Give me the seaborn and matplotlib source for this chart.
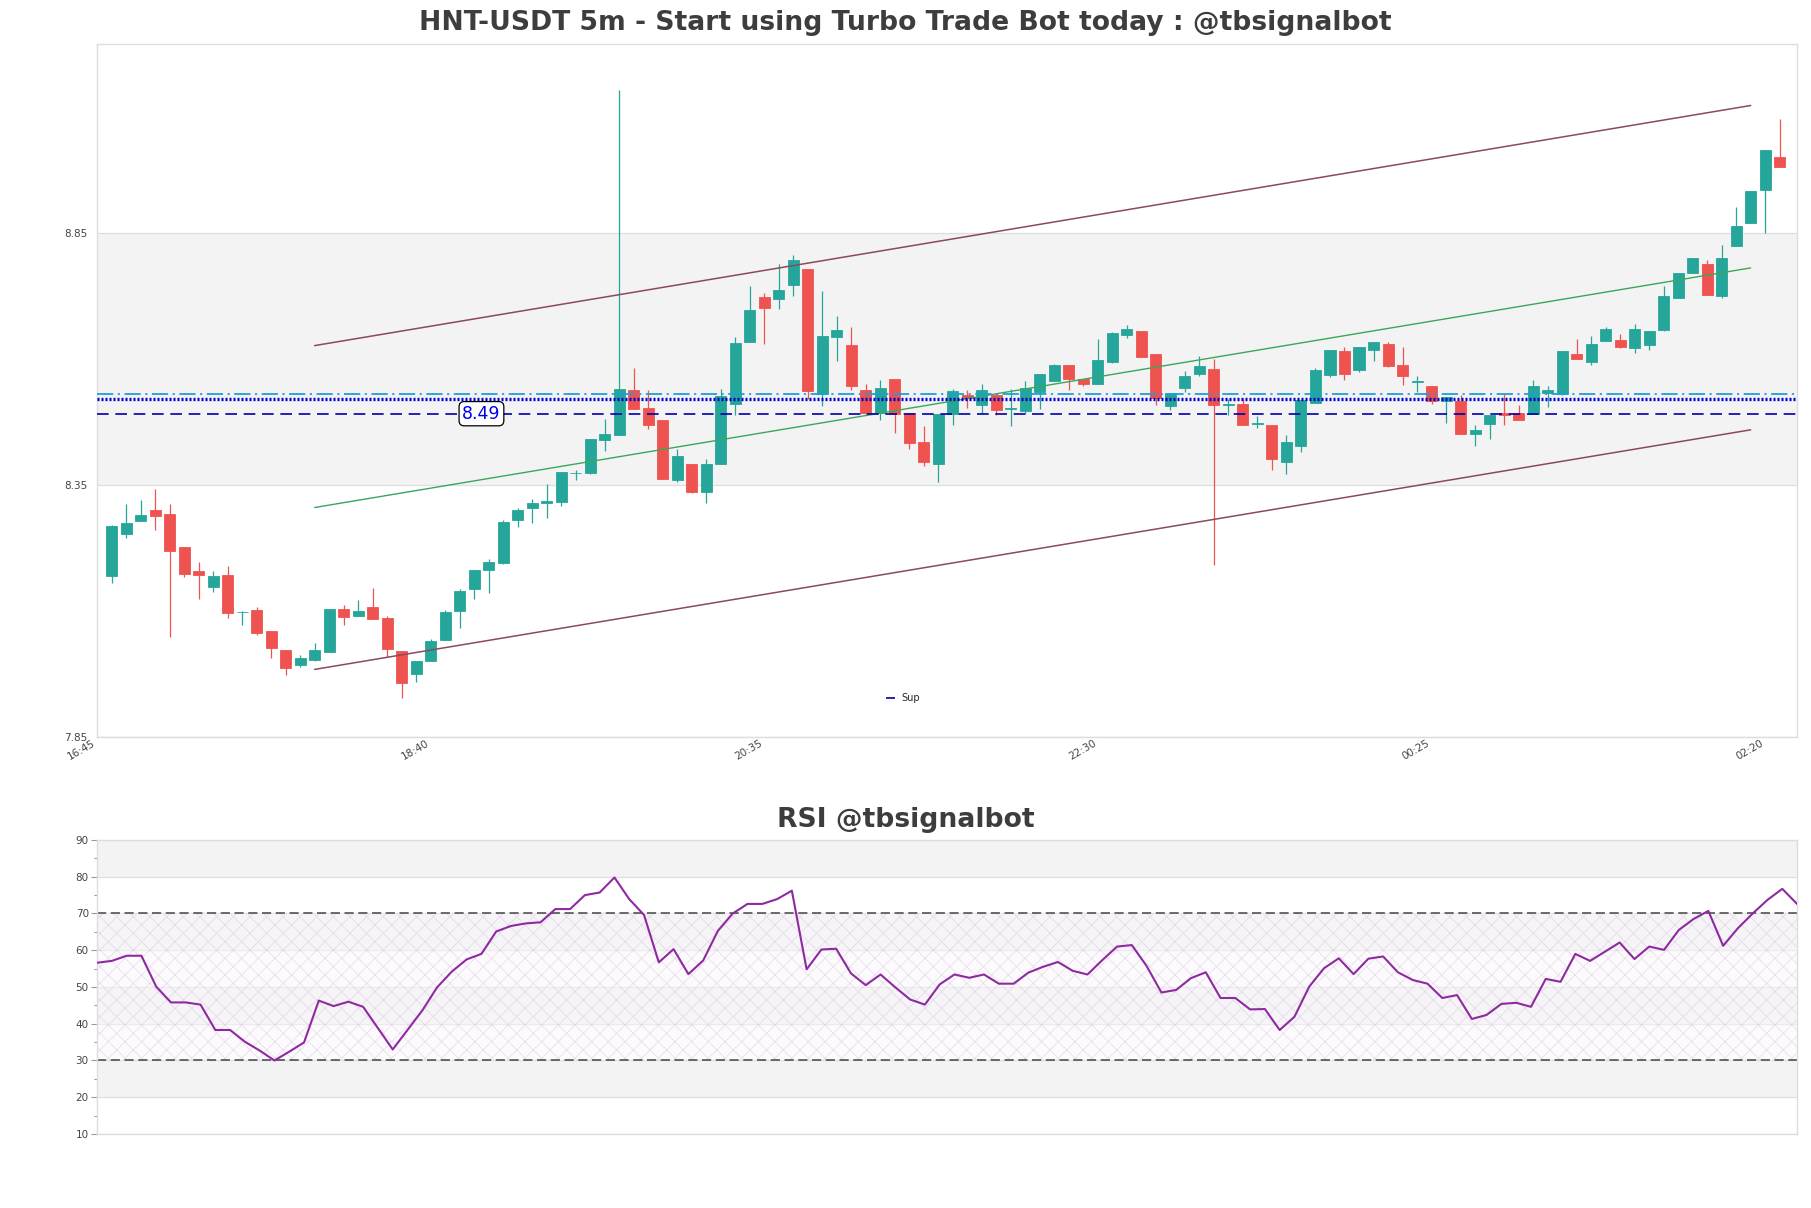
import numpy as np
import pandas as pd
import matplotlib
matplotlib.use("Agg")
import matplotlib.pyplot as plt
import seaborn as sns
from matplotlib.ticker import MultipleLocator

sns.set_theme(style="white")
plt.rcParams['font.family'] = ['DejaVu Sans']
plt.rcParams['hatch.linewidth'] = 0.5

# ---------------- data ----------------
opens = [8.170, 8.253, 8.278, 8.300, 8.292, 8.226, 8.179, 8.148, 8.171, 8.097,
         8.101, 8.060, 8.022, 7.993, 8.003, 8.019, 8.104, 8.090, 8.107, 8.086,
         8.020, 7.974, 8.001, 8.043, 8.100, 8.144, 8.181, 8.195, 8.280, 8.304,
         8.313, 8.316, 8.373, 8.373, 8.439, 8.449, 8.538, 8.503, 8.478, 8.359,
         8.392, 8.336, 8.392, 8.511, 8.633, 8.723, 8.718, 8.746, 8.777, 8.531,
         8.643, 8.628, 8.537, 8.493, 8.559, 8.493, 8.435, 8.392, 8.491, 8.529,
         8.509, 8.529, 8.501, 8.496, 8.534, 8.556, 8.587, 8.560, 8.550, 8.593,
         8.647, 8.655, 8.610, 8.506, 8.542, 8.569, 8.580, 8.509, 8.511, 8.470,
         8.469, 8.395, 8.427, 8.512, 8.568, 8.616, 8.577, 8.618, 8.630, 8.587,
         8.553, 8.545, 8.516, 8.517, 8.451, 8.471, 8.493, 8.493, 8.491, 8.532,
         8.530, 8.610, 8.593, 8.635, 8.637, 8.621, 8.628, 8.656, 8.720, 8.769,
         8.787, 8.724, 8.823, 8.870, 8.934, 9.000]
highs = [8.270, 8.312, 8.319, 8.341, 8.311, 8.227, 8.197, 8.179, 8.190, 8.100,
         8.107, 8.060, 8.022, 8.012, 8.036, 8.104, 8.111, 8.121, 8.146, 8.090,
         8.020, 8.001, 8.044, 8.101, 8.143, 8.181, 8.202, 8.280, 8.304, 8.321,
         8.352, 8.375, 8.380, 8.440, 8.480, 9.132, 8.581, 8.538, 8.478, 8.420,
         8.392, 8.402, 8.540, 8.643, 8.745, 8.731, 8.787, 8.806, 8.777, 8.735,
         8.684, 8.663, 8.550, 8.557, 8.559, 8.493, 8.466, 8.491, 8.540, 8.537,
         8.550, 8.532, 8.540, 8.556, 8.569, 8.589, 8.587, 8.560, 8.639, 8.653,
         8.666, 8.655, 8.610, 8.532, 8.575, 8.605, 8.600, 8.521, 8.521, 8.486,
         8.469, 8.449, 8.519, 8.582, 8.618, 8.623, 8.624, 8.633, 8.633, 8.623,
         8.565, 8.545, 8.525, 8.529, 8.469, 8.488, 8.532, 8.509, 8.557, 8.545,
         8.616, 8.639, 8.645, 8.663, 8.649, 8.669, 8.654, 8.745, 8.770, 8.800,
         8.796, 8.826, 8.900, 8.933, 9.014, 9.075]
lows = [8.156, 8.245, 8.278, 8.260, 8.049, 8.167, 8.124, 8.138, 8.086, 8.072,
        8.053, 8.007, 7.973, 7.989, 8.001, 8.019, 8.072, 8.090, 8.084, 8.009,
        7.927, 7.960, 8.001, 8.043, 8.066, 8.124, 8.136, 8.192, 8.266, 8.274,
        8.285, 8.308, 8.359, 8.371, 8.418, 8.449, 8.501, 8.461, 8.362, 8.356,
        8.333, 8.313, 8.392, 8.489, 8.633, 8.630, 8.698, 8.724, 8.521, 8.506,
        8.595, 8.538, 8.489, 8.478, 8.453, 8.420, 8.387, 8.356, 8.468, 8.503,
        8.491, 8.488, 8.466, 8.491, 8.501, 8.556, 8.538, 8.545, 8.550, 8.591,
        8.641, 8.603, 8.509, 8.499, 8.534, 8.565, 8.191, 8.488, 8.468, 8.463,
        8.379, 8.371, 8.415, 8.512, 8.564, 8.557, 8.573, 8.595, 8.583, 8.547,
        8.534, 8.511, 8.472, 8.451, 8.427, 8.441, 8.469, 8.479, 8.491, 8.504,
        8.529, 8.600, 8.587, 8.635, 8.621, 8.611, 8.618, 8.655, 8.720, 8.769,
        8.727, 8.721, 8.823, 8.870, 8.849, 8.981]
closes = [8.268, 8.274, 8.290, 8.288, 8.219, 8.173, 8.171, 8.169, 8.096, 8.098,
          8.056, 8.027, 7.987, 8.006, 8.022, 8.104, 8.088, 8.100, 8.084, 8.025,
          7.958, 8.001, 8.040, 8.097, 8.139, 8.181, 8.196, 8.276, 8.300, 8.313,
          8.317, 8.375, 8.374, 8.440, 8.450, 8.540, 8.501, 8.469, 8.362, 8.408,
          8.336, 8.392, 8.527, 8.631, 8.697, 8.700, 8.736, 8.795, 8.536, 8.646,
          8.656, 8.546, 8.493, 8.542, 8.491, 8.432, 8.395, 8.491, 8.535, 8.522,
          8.537, 8.499, 8.503, 8.542, 8.569, 8.587, 8.559, 8.550, 8.597, 8.650,
          8.659, 8.603, 8.523, 8.532, 8.566, 8.586, 8.509, 8.510, 8.468, 8.472,
          8.401, 8.435, 8.519, 8.577, 8.618, 8.570, 8.624, 8.633, 8.585, 8.566,
          8.555, 8.516, 8.525, 8.451, 8.459, 8.488, 8.489, 8.479, 8.545, 8.537,
          8.616, 8.600, 8.630, 8.659, 8.623, 8.659, 8.654, 8.725, 8.770, 8.800,
          8.727, 8.800, 8.864, 8.933, 9.014, 8.981]
rsi = [56.6, 57.1, 58.5, 58.5, 50.1, 45.8, 45.8, 45.2, 38.3, 38.3,
       35.1, 32.7, 30.0, 32.4, 34.9, 46.3, 44.8, 46.0, 44.6, 38.8,
       33.0, 38.3, 43.6, 49.9, 54.2, 57.5, 59.0, 65.1, 66.6, 67.3,
       67.6, 71.2, 71.2, 75.0, 75.7, 79.8, 73.9, 69.6, 56.7, 60.3,
       53.5, 57.2, 65.3, 70.0, 72.6, 72.6, 73.9, 76.2, 54.8, 60.2,
       60.4, 53.7, 50.5, 53.4, 49.9, 46.6, 45.2, 50.7, 53.4, 52.5,
       53.4, 50.9, 50.9, 53.9, 55.5, 56.8, 54.4, 53.4, 57.3, 61.0,
       61.4, 55.7, 48.5, 49.2, 52.4, 54.0, 47.0, 47.0, 43.9, 44.0,
       38.3, 41.9, 50.1, 55.1, 57.8, 53.5, 57.7, 58.3, 54.0, 51.9,
       50.9, 47.0, 47.8, 41.3, 42.4, 45.4, 45.7, 44.6, 52.2, 51.4,
       59.0, 57.1, 59.6, 62.1, 57.6, 61.0, 60.1, 65.5, 68.5, 70.7,
       61.2, 66.0, 70.0, 73.7, 76.7, 72.6]

tick_labels = ['16:45', '18:40', '20:35', '22:30', '00:25', '02:20']
tick_index = [-1, 22, 45, 68, 91, 114]

channel_x = [14, 113]
channel_upper = [8.626, 9.102]
channel_mid = [8.305, 8.780]
channel_lower = [7.984, 8.459]

sup_level = 8.491
level_dashdot = 8.530
level_dotted = 8.521

price_ticks = [7.85, 8.35, 8.85]
rsi_ticks = [10, 20, 30, 40, 50, 60, 70, 80, 90]

df = pd.DataFrame({"open": opens, "high": highs, "low": lows, "close": closes})
df["idx"] = np.arange(len(df))
df["up"] = df["close"] >= df["open"]
rsi_df = pd.DataFrame({"idx": np.arange(len(rsi)), "rsi": rsi})

GREEN = "#26a69a"
RED = "#ef5350"
BAND = "#f3f3f3"
GRID = "#dedede"

fig = plt.figure(figsize=(18.11, 12.08), dpi=100)
ax = fig.add_axes([0.0536, 0.3899, 0.9387, 0.5737])
ax2 = fig.add_axes([0.0536, 0.06126, 0.9387, 0.2434])

# ---------------- main price chart ----------------
ax.set_ylim(7.85, 9.224)
ax.set_xlim(-1, 116.2)
ax.axhspan(price_ticks[1], price_ticks[2], color=BAND, zorder=0, lw=0)
for t in price_ticks:
    ax.axhline(t, color=GRID, lw=0.9, zorder=0.5)

cols = np.where(df["up"], GREEN, RED)
ax.vlines(df["idx"], df["low"], df["high"], colors=cols, lw=0.9, zorder=2)
ax.bar(df["idx"], (df["close"] - df["open"]).abs(),
       bottom=df[["open", "close"]].min(axis=1), width=0.76,
       color=cols, edgecolor=cols, linewidth=0.6, zorder=3)

ax.plot(channel_x, channel_upper, color="#8a4a5c", lw=1.1, zorder=4)
ax.plot(channel_x, channel_lower, color="#8a4a5c", lw=1.1, zorder=4)
ax.plot(channel_x, channel_mid, color="#3aa85a", lw=1.0, zorder=4)

ax.axhline(level_dashdot, color="#1e9fd8", lw=1.3, ls=(0, (9, 2.5, 1.2, 2.5)), zorder=5)
ax.axhline(level_dotted, color="#0000cc", lw=2.4, ls=(0, (0.6, 0.6)), zorder=5)
ax.axhline(sup_level, color="#0000aa", lw=1.2, ls=(0, (7, 4)), zorder=5, label="Sup")
ax.text(25.5, sup_level, "8.49", color="#0000ee", fontsize=12.5, ha="center", va="center",
        zorder=6, bbox=dict(boxstyle="round,pad=0.18,rounding_size=0.3", fc="white", ec="black", lw=0.9))

leg = ax.legend(loc="lower center", bbox_to_anchor=(0.474, 0.036), frameon=False,
                fontsize=7, handlelength=1.0, handletextpad=0.6)

ax.set_yticks(price_ticks)
ax.set_yticklabels([f"{t:.2f}" for t in price_ticks])
ax.set_xticks(tick_index)
ax.set_xticklabels(tick_labels, rotation=30, ha="right")
ax.tick_params(axis="y", length=0, pad=7, labelsize=7.5, labelcolor="#444444")
ax.tick_params(axis="x", length=0, pad=1, labelsize=7.5, labelcolor="#444444")
for s in ax.spines.values():
    s.set_color("#dddddd")
    s.set_linewidth(1.0)

# ---------------- RSI chart ----------------
ax2.set_ylim(10, 90)
ax2.set_xlim(0, len(rsi) - 1)
for lo in [20, 40, 60, 80]:
    ax2.axhspan(lo, lo + 10, color=BAND, zorder=0, lw=0)
for t in rsi_ticks:
    ax2.axhline(t, color=GRID, lw=0.9, zorder=0.5)
ax2.fill_between([0, len(rsi) - 1], 30, 70, facecolor="#faf6fb", edgecolor="#cdbcd9",
                 hatch="xx", linewidth=0, alpha=0.5, zorder=1)
ax2.axhline(70, color="#444444", lw=1.1, ls=(0, (6, 3)), zorder=2)
ax2.axhline(30, color="#444444", lw=1.1, ls=(0, (6, 3)), zorder=2)
sns.lineplot(data=rsi_df, x="idx", y="rsi", ax=ax2, color="#8e2aa0", lw=1.5, zorder=3)
ax2.set_xlabel("")
ax2.set_ylabel("")
ax2.set_xticks([])
ax2.set_yticks(rsi_ticks)
ax2.yaxis.set_minor_locator(MultipleLocator(5))
ax2.tick_params(axis="y", which="major", left=True, length=4, width=0.8, color="#999999",
                pad=2, labelsize=7.5, labelcolor="#444444")
ax2.tick_params(axis="y", which="minor", left=True, length=2, width=0.8, color="#999999")
for s in ax2.spines.values():
    s.set_color("#dddddd")
    s.set_linewidth(1.0)

# ---------------- titles ----------------
fig.text(0.5, 1 - 23 / 1208, "HNT-USDT 5m - Start using Turbo Trade Bot today : @tbsignalbot",
         ha="center", va="center", fontsize=19.2, fontweight="bold", color="#3d3d3d")
fig.text(0.5, 1 - 820 / 1208, "RSI @tbsignalbot",
         ha="center", va="center", fontsize=19.2, fontweight="bold", color="#3d3d3d")

fig.savefig("out.png", dpi=100)
